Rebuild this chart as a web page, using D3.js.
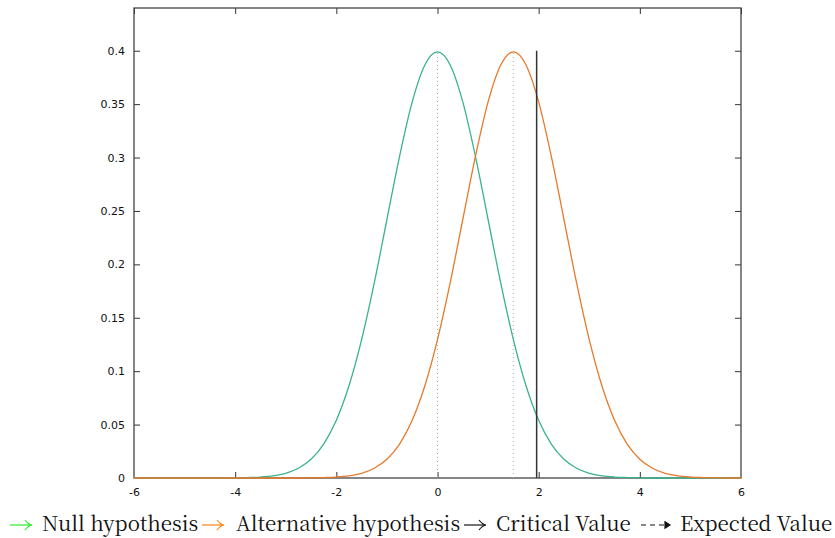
<!DOCTYPE html>
<html><head><meta charset="utf-8">
<script src="https://cdn.jsdelivr.net/npm/d3@7"></script>
<style>body{margin:0;background:#fff}svg{display:block}</style>
</head><body><div id="chart"></div>
<script>
const xGrid = [-6,-5.75,-5.5,-5.25,-5,-4.75,-4.5,-4.25,-4,-3.75,-3.5,-3.25,-3,-2.75,-2.5,-2.25,-2,-1.75,-1.5,-1.25,-1,-0.75,-0.5,-0.25,0,0.25,0.5,0.75,1,1.25,1.5,1.75,2,2.25,2.5,2.75,3,3.25,3.5,3.75,4,4.25,4.5,4.75,5,5.25,5.5,5.75,6];
const nullValues = [0,0,0,0,0,0,0,0,0.0001,0.0004,0.0009,0.0020,0.0044,0.0091,0.0175,0.0317,0.0540,0.0863,0.1295,0.1826,0.2420,0.3011,0.3521,0.3867,0.3989,0.3867,0.3521,0.3011,0.2420,0.1826,0.1295,0.0863,0.0540,0.0317,0.0175,0.0091,0.0044,0.0020,0.0009,0.0004,0.0001,0,0,0,0,0,0,0,0];
const altValues = [0,0,0,0,0,0,0,0,0,0,0,0,0,0,0.0001,0.0004,0.0009,0.0020,0.0044,0.0091,0.0175,0.0317,0.0540,0.0863,0.1295,0.1826,0.2420,0.3011,0.3521,0.3867,0.3989,0.3867,0.3521,0.3011,0.2420,0.1826,0.1295,0.0863,0.0540,0.0317,0.0175,0.0091,0.0044,0.0020,0.0009,0.0004,0.0001,0,0];
const xTicks = [-6,-4,-2,0,2,4,6];
const yTicks = [0,0.05,0.1,0.15,0.2,0.25,0.3,0.35,0.4];
const nullMean = 0, altMean = 1.5, criticalValue = 1.96, lineTop = 0.4;
const legendLabels = ["Null hypothesis", "Alternative hypothesis", "Critical Value", "Expected Value"];
const legendColors = ["#22ee22", "#ff7f0e", "#111", "#111"];
const legendDashed = [false, false, false, true];

const W = 835, H = 538;
const m = {l:134, r:741, t:8, b:478};
const svg = d3.select("#chart").append("svg").attr("width", W).attr("height", H);
const x = d3.scaleLinear().domain([-6,6]).range([m.l, m.r]);
const y = d3.scaleLinear().domain([0,0.44]).range([m.b, m.t]);

const tickFont = '"DejaVu Sans", Verdana, sans-serif';
const fmt = d => d === 0 ? "0" : String(+d.toFixed(2));
const gx = svg.append("g").attr("transform", `translate(0,${m.b})`)
  .call(d3.axisBottom(x).tickValues(xTicks).tickSize(-6).tickPadding(10).tickFormat(fmt));
const gy = svg.append("g").attr("transform", `translate(${m.l},0)`)
  .call(d3.axisLeft(y).tickValues(yTicks).tickSize(-6).tickPadding(9).tickFormat(fmt));
const gxt = svg.append("g").attr("transform", `translate(0,${m.t})`)
  .call(d3.axisTop(x).tickValues(xTicks).tickSize(-6).tickFormat(""));
const gyr = svg.append("g").attr("transform", `translate(${m.r},0)`)
  .call(d3.axisRight(y).tickValues(yTicks).tickSize(-6).tickFormat(""));
[gx,gy,gxt,gyr].forEach(g => {
  g.select(".domain").remove();
  g.selectAll(".tick line").attr("stroke","#333").attr("stroke-width",1);
  g.selectAll(".tick text").style("font-family", tickFont).style("font-size", "11px").attr("fill","#111");
});
gx.selectAll(".tick").filter(d => d === -6 || d === 6).select("line").remove();
gy.selectAll(".tick").filter(d => d === 0).select("line").remove();
gyr.selectAll(".tick").filter(d => d === 0).select("line").remove();

svg.append("rect").attr("x", m.l).attr("y", m.t).attr("width", m.r - m.l).attr("height", m.b - m.t)
  .attr("fill","none").attr("stroke","#444").attr("stroke-width",1.3);

const data = xGrid.map((v,i) => ({x:v, n:nullValues[i], a:altValues[i]}));
const lineN = d3.line().x(d => x(d.x)).y(d => y(d.n)).curve(d3.curveMonotoneX);
const lineA = d3.line().x(d => x(d.x)).y(d => y(d.a)).curve(d3.curveMonotoneX);

[nullMean, altMean].forEach(v => {
  svg.append("line").attr("x1", x(v)).attr("x2", x(v)).attr("y1", y(0)).attr("y2", y(lineTop))
    .attr("stroke","#aaa").attr("stroke-width",1).attr("stroke-dasharray","1,3");
});

svg.append("path").datum(data).attr("d", lineN).attr("fill","none").attr("stroke","#3ab38b").attr("stroke-width",1.3);
svg.append("path").datum(data).attr("d", lineA).attr("fill","none").attr("stroke","#e8792b").attr("stroke-width",1.3);

svg.append("line").attr("x1", x(criticalValue)).attr("x2", x(criticalValue)).attr("y1", y(0)).attr("y2", y(lineTop))
  .attr("stroke","#333").attr("stroke-width",1.5);

const legPos = [
  {ax:10, aw:22, tx:42},
  {ax:202, aw:22, tx:236},
  {ax:464, aw:22, tx:496},
  {ax:641, aw:29, tx:680}
];
const ay = 525;
const leg = svg.append("g");
legendLabels.forEach((lab,i) => {
  const p = legPos[i], c = legendColors[i];
  leg.append("line").attr("x1", p.ax).attr("x2", p.ax + p.aw - 1).attr("y1", ay).attr("y2", ay)
    .attr("stroke", c).attr("stroke-width", 1.2)
    .attr("stroke-dasharray", legendDashed[i] ? "5,4" : null);
  leg.append("path")
    .attr("d", legendDashed[i]
      ? `M${p.ax+p.aw-5},${ay-3.2} L${p.ax+p.aw},${ay} L${p.ax+p.aw-5},${ay+3.2} Z`
      : `M${p.ax+p.aw-7},${ay-5} Q${p.ax+p.aw-3.5},${ay-0.5} ${p.ax+p.aw},${ay} Q${p.ax+p.aw-3.5},${ay+0.5} ${p.ax+p.aw-7},${ay+5}`)
    .attr("fill", legendDashed[i] ? c : "none").attr("stroke", c).attr("stroke-width", 1.2);
  leg.append("text").attr("x", p.tx).attr("y", 531)
    .style("font-family", '"Noto Serif CJK SC", "Liberation Serif", serif').style("font-size", "20.5px")
    .attr("fill", "#111").text(lab);
});
</script></body></html>
